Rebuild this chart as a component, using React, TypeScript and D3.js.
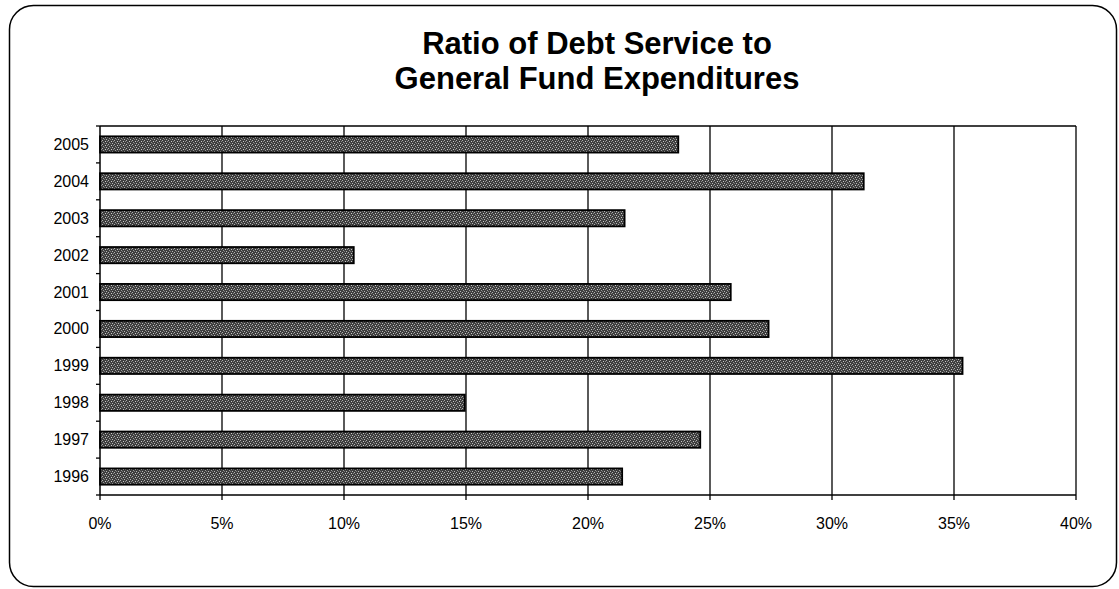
import React from "react";
import * as d3 from "d3";

const years = ["2005", "2004", "2003", "2002", "2001", "2000", "1999", "1998", "1997", "1996"];
const ratios = [23.7, 31.3, 21.5, 10.4, 25.85, 27.4, 35.35, 14.95, 24.6, 21.4];
const xTicks = [0, 5, 10, 15, 20, 25, 30, 35, 40];
const titleLines = ["Ratio of Debt Service to", "General Fund Expenditures"];

const W = 1119;
const H = 589;
const plot = { left: 100, right: 1076, top: 126, bottom: 495 };

export default function App() {
  const x = d3.scaleLinear().domain([0, 40]).range([plot.left, plot.right]);
  const y = d3.scaleBand().domain(years).range([plot.top, plot.bottom]).paddingInner(0.56).paddingOuter(0.28);
  const yBand = d3.scaleBand().domain(years).range([plot.top, plot.bottom]);
  const font = "'Liberation Sans', Arial, sans-serif";

  return (
    <svg width={W} height={H} style={{ position: "absolute", left: 0, top: 0, background: "#fff" }}>
      <defs>
        <pattern id="ht" width="6" height="4" patternUnits="userSpaceOnUse">
          <rect width="6" height="4" fill="#3e3e3e" />
          <rect x="0" y="0" width="1" height="1" fill="#b0b0b0" />
          <rect x="3" y="1" width="1" height="1" fill="#c8c8c8" />
          <rect x="1" y="2" width="1" height="1" fill="#9a9a9a" />
          <rect x="4" y="3" width="1" height="1" fill="#b8b8b8" />
          <rect x="5" y="1" width="1" height="1" fill="#888" />
          <rect x="2" y="3" width="1" height="1" fill="#777" />
        </pattern>
      </defs>
      <rect x={9.5} y={5.5} width={1107} height={581} rx={24} ry={24} fill="none" stroke="#000" strokeWidth={1.5} />
      <g fontFamily={font} fontWeight="bold" fontSize={31} textAnchor="middle" fill="#000">
        {titleLines.map((t, i) => (
          <text key={t} x={597} y={54 + i * 35}>{t}</text>
        ))}
      </g>
      <line x1={plot.left} x2={plot.right} y1={plot.top} y2={plot.top} stroke="#000" strokeWidth={1.5} />
      {xTicks.filter(t => t > 0).map(t => (
        <line key={t} x1={x(t)} x2={x(t)} y1={plot.top} y2={plot.bottom} stroke="#000" strokeWidth={1.3} />
      ))}
      {years.map((yr, i) => (
        <rect key={yr} x={x(0)} y={y(yr)} width={x(ratios[i]) - x(0)} height={y.bandwidth()}
          fill="url(#ht)" stroke="#000" strokeWidth={1.8} />
      ))}
      <line x1={plot.left} x2={plot.left} y1={plot.top} y2={plot.bottom} stroke="#000" strokeWidth={1.5} />
      <line x1={plot.left} x2={plot.right} y1={plot.bottom} y2={plot.bottom} stroke="#000" strokeWidth={1.5} />
      {years.map(yr => (
        <line key={"t" + yr} x1={plot.left - 4} x2={plot.left} y1={yBand(yr)} y2={yBand(yr)} stroke="#000" strokeWidth={1.3} />
      ))}
      <line x1={plot.left - 4} x2={plot.left} y1={plot.bottom} y2={plot.bottom} stroke="#000" strokeWidth={1.3} />
      {xTicks.map(t => (
        <line key={"xt" + t} x1={x(t)} x2={x(t)} y1={plot.bottom} y2={plot.bottom + 5} stroke="#000" strokeWidth={1.3} />
      ))}
      <g fontFamily={font} fontSize={16} fill="#000">
        {years.map(yr => (
          <text key={"l" + yr} x={89} y={(yBand(yr) ?? 0) + yBand.bandwidth() / 2} textAnchor="end" dominantBaseline="central">{yr}</text>
        ))}
        {xTicks.map(t => (
          <text key={"xl" + t} x={x(t)} y={523} textAnchor="middle" dominantBaseline="central">{t + "%"}</text>
        ))}
      </g>
    </svg>
  );
}
